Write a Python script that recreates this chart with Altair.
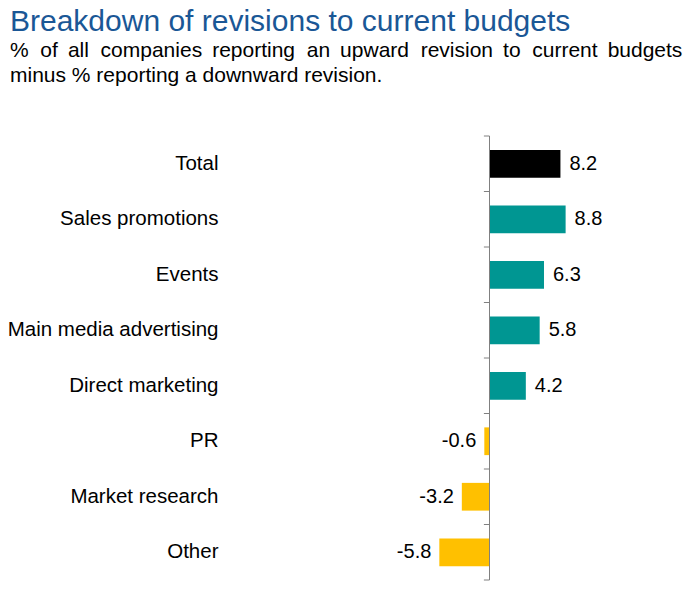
import altair as alt
import pandas as pd

# Net balance (% up minus % down) by budget category
categories = ["Total", "Sales promotions", "Events", "Main media advertising",
              "Direct marketing", "PR", "Market research", "Other"]
values = [8.2, 8.8, 6.3, 5.8, 4.2, -0.6, -3.2, -5.8]
boundaries = list(range(len(categories) + 1))

df = pd.DataFrame({"category": categories, "value": values})
bounds_df = pd.DataFrame({"b": boundaries})

FONT = "Liberation Sans"
# first subtitle line is justified: widen each word gap with an extra narrow space
_words = "% of all companies reporting an upward revision to current budgets".split(" ")
subtitle_line1 = _words[0]
for i, w in enumerate(_words[1:]):
    subtitle_line1 += (" \u00a0" if i % 2 == 0 else " \u2009") + w
subtitle_line2 = "minus % reporting a downward revision."

x_scale = alt.Scale(domain=[-30, 10], nice=False, zero=False)
band_scale = alt.Scale(domain=categories, paddingInner=0.5, paddingOuter=0.25)
y_band = alt.Y(
    "category:N",
    scale=band_scale,
    axis=alt.Axis(title=None, ticks=False, domain=False, grid=False, labelPadding=12,
                  labelFontSize=20.5, labelFont=FONT, labelColor="#000000",
                  labelLimit=400),
)
y_band_noaxis = alt.Y("category:N", scale=band_scale, axis=None)

base = alt.Chart(df).transform_calculate(
    group="datum.category == 'Total' ? 'total' : (datum.value >= 0 ? 'up' : 'down')",
    label="replace(format(datum.value, '.1f'), '\u2212', '-')",
)

bars = base.mark_bar().encode(
    x=alt.X("value:Q", scale=x_scale, axis=None),
    x2=alt.datum(0),
    y=y_band,
    color=alt.Color("group:N", legend=None,
                    scale=alt.Scale(domain=["total", "up", "down"],
                                    range=["#000000", "#009692", "#FFC000"])),
)

pos_labels = base.transform_filter("datum.value >= 0").mark_text(
    align="left", baseline="middle", dx=9, fontSize=20, font=FONT, color="#000000"
).encode(x=alt.X("value:Q", scale=x_scale, axis=None), y=y_band_noaxis, text="label:N")

neg_labels = base.transform_filter("datum.value < 0").mark_text(
    align="right", baseline="middle", dx=-8, fontSize=20, font=FONT, color="#000000"
).encode(x=alt.X("value:Q", scale=x_scale, axis=None), y=y_band_noaxis, text="label:N")

# Zero line with small ticks between categories
bound_scale = alt.Scale(domain=[0, len(categories)], nice=False)
zero_line = alt.Chart(bounds_df).transform_aggregate(
    lo="min(b)", hi="max(b)"
).mark_rule(color="#808080", strokeWidth=1).encode(
    x=alt.datum(0, scale=x_scale),
    y=alt.Y("lo:Q", scale=bound_scale, axis=None),
    y2="hi:Q",
)
ticks = alt.Chart(bounds_df).mark_rule(color="#808080", strokeWidth=1).encode(
    x=alt.datum(-0.65, scale=x_scale),
    x2=alt.datum(0),
    y=alt.Y("b:Q", scale=bound_scale, axis=None),
)

chart = alt.layer(bars, pos_labels, neg_labels, zero_line, ticks).resolve_scale(
    y="independent"
).properties(
    width=346,
    height=444,
    autosize=alt.AutoSizeParams(type="none"),
    padding={"left": 230, "top": 136, "right": 116, "bottom": 19},
    background="#ffffff",
    title=alt.TitleParams(
        text="Breakdown of revisions to current budgets",
        subtitle=[subtitle_line1, subtitle_line2],
        anchor="start",
        frame="group",
        dx=-220,
        offset=50,
        font=FONT,
        fontSize=30,
        fontWeight="normal",
        color="#1A5796",
        subtitleFont=FONT,
        subtitleFontSize=21,
        subtitleColor="#000000",
        subtitleLineHeight=25,
        subtitlePadding=3,
    ),
).configure_view(stroke=None)

chart.save("out.html", embed_options={"renderer": "svg", "actions": False})
